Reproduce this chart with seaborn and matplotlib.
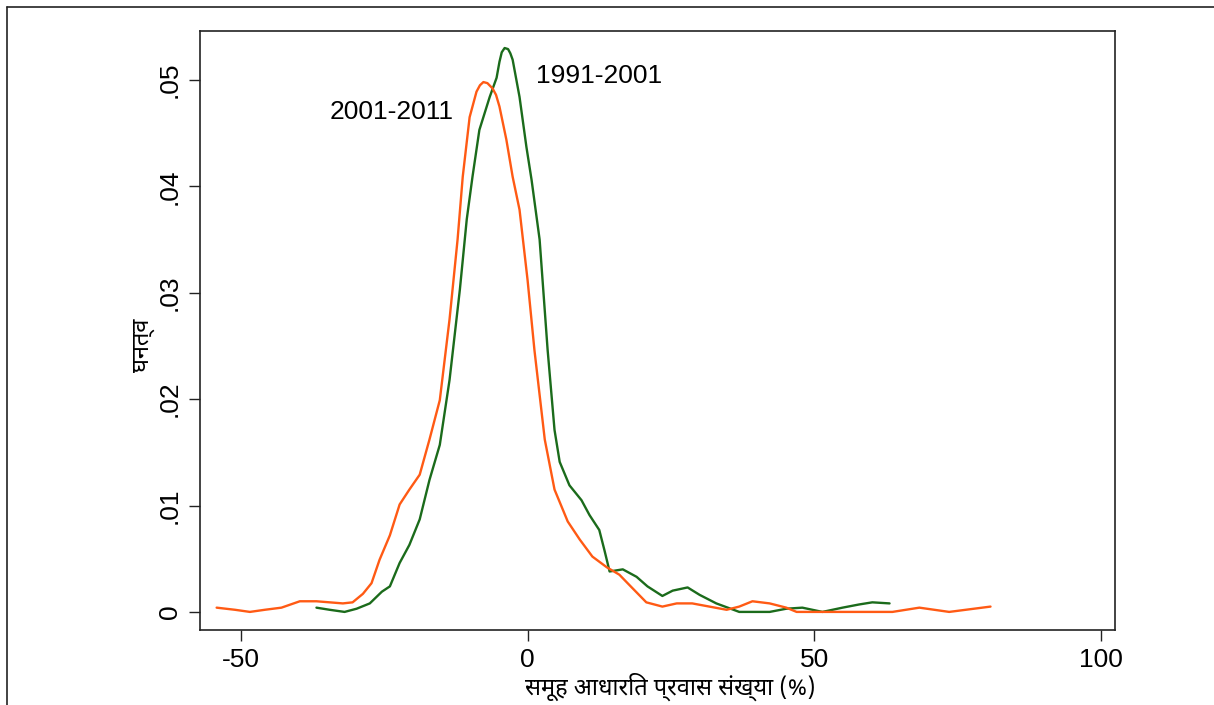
import matplotlib
matplotlib.use("Agg")
import matplotlib.pyplot as plt
import seaborn as sns
import pandas as pd
from matplotlib.lines import Line2D

# ---- data ----
x_2001_2011 = [-54.2, -51.0, -48.4, -45.8, -42.9, -39.7, -36.8, -34.5, -32.2, -30.5,
               -28.7, -27.2, -25.8, -24.0, -22.3, -20.6, -18.8, -17.1, -15.3, -13.6,
               -12.2, -11.3, -10.1, -8.9, -8.3, -7.7, -7.0, -6.1, -5.5, -4.9, -3.7, -2.6, -1.4,
               0.0, 1.2, 3.0, 4.7, 7.0, 9.1, 11.3, 13.8, 16.0, 17.8,
               20.7, 23.5, 26.0, 28.7, 31.7, 34.7, 36.9, 39.2, 42.2, 45.1,
               46.9, 52.6, 63.6, 68.3, 73.5, 80.7]
y_2001_2011 = [0.0004, 0.0002, 0.0000, 0.0002, 0.0004, 0.0010, 0.0010, 0.0009, 0.0008, 0.0009,
               0.0017, 0.0027, 0.0049, 0.0072, 0.0101, 0.0115, 0.0129, 0.0162, 0.0199, 0.0275,
               0.0350, 0.0409, 0.0465, 0.0489, 0.0495, 0.0498, 0.0497, 0.0492, 0.0486, 0.0475,
               0.0444, 0.0409, 0.0378,
               0.0312, 0.0246, 0.0162, 0.0115, 0.0085, 0.0068, 0.0052, 0.0042, 0.0035, 0.0025,
               0.0009, 0.0005, 0.0008, 0.0008, 0.0005, 0.0002, 0.0005, 0.0010, 0.0008, 0.0004,
               0.0000, 0.0000, 0.0000, 0.0004, 0.0000, 0.0005]

x_1991_2001 = [-36.8, -34.5, -31.9, -29.8, -27.5, -25.4, -24.0, -22.3, -20.6, -18.8,
               -17.1, -15.3, -13.6, -11.8, -10.6, -9.6, -8.4, -6.6, -5.4, -4.9,
               -4.5, -4.0, -3.4, -3.0, -2.6, -1.4, -0.2, 0.7, 2.1, 3.5, 4.7, 5.6, 7.3,
               9.4, 10.8, 12.5, 13.4, 14.3, 16.6, 19.0, 20.9, 23.5, 25.3,
               27.9, 30.0, 32.9, 36.9, 42.2, 45.1, 47.9, 51.4, 54.9, 57.8,
               60.1, 63.1]
y_1991_2001 = [0.0004, 0.0002, 0.0000, 0.0003, 0.0008, 0.0019, 0.0024, 0.0046, 0.0063, 0.0087,
               0.0124, 0.0157, 0.0218, 0.0303, 0.0369, 0.0409, 0.0453, 0.0484, 0.0502, 0.0517,
               0.0526, 0.0530, 0.0529, 0.0525, 0.0519, 0.0484, 0.0437, 0.0406, 0.0350, 0.0246,
               0.0171, 0.0141, 0.0119,
               0.0105, 0.0091, 0.0077, 0.0058, 0.0038, 0.0040, 0.0033, 0.0024, 0.0015, 0.0020,
               0.0023, 0.0016, 0.0008, 0.0000, 0.0000, 0.0003, 0.0004, 0.0000, 0.0004, 0.0007,
               0.0009, 0.0008]

series_names = ["1991-2001", "2001-2011"]
series_colors = {"1991-2001": "#1b6b1b", "2001-2011": "#ff5a14"}
x_ticks = [-50, 0, 50, 100]
y_ticks = [0, 0.01, 0.02, 0.03, 0.04, 0.05]
y_tick_labels = ["0", ".01", ".02", ".03", ".04", ".05"]
x_label = "समूह आधारित प्रवास संख्या (%)"
y_label = "घनत्व"

df = pd.concat([
    pd.DataFrame({"x": x_1991_2001, "y": y_1991_2001, "period": "1991-2001"}),
    pd.DataFrame({"x": x_2001_2011, "y": y_2001_2011, "period": "2001-2011"}),
], ignore_index=True)

sns.set_style("white")
plt.rcParams["font.family"] = ["Liberation Sans", "DejaVu Sans"]
plt.rcParams["text.color"] = "black"
plt.rcParams["axes.labelcolor"] = "black"
plt.rcParams["xtick.color"] = "black"
plt.rcParams["ytick.color"] = "black"
deva = ["Noto Sans Devanagari", "Lohit Devanagari", "Mangal", "Noto Sans", "DejaVu Sans"]

fig = plt.figure(figsize=(12.14, 7.05), dpi=100)
ax = fig.add_axes([200 / 1214, 1 - 630 / 705, (1115 - 200) / 1214, (630 - 31) / 705])

sns.lineplot(data=df, x="x", y="y", hue="period", hue_order=series_names,
             palette=series_colors, sort=False, estimator=None, linewidth=1.7,
             legend=False, ax=ax)

ax.set_xlim(-57.1, 102.4)
ax.set_ylim(-0.0017, 0.0546)
ax.set_xticks(x_ticks)
ax.set_xticklabels([str(t) for t in x_ticks])
ax.set_yticks(y_ticks)
ax.set_yticklabels(y_tick_labels, rotation=90, va="center")
ax.tick_params(axis="both", direction="out", length=8, width=1, color="#222222",
               labelsize=19, pad=5, bottom=True, left=True)
for sp in ax.spines.values():
    sp.set_color("#222222")
    sp.set_linewidth(1.2)

ax.set_xlabel(x_label, fontsize=17, family=deva, va="center")
ax.xaxis.set_label_coords(0.514, -0.095)
ax.set_ylabel(y_label, fontsize=17, family=deva, va="center")
ax.yaxis.set_label_coords(-0.062, 0.476)

ax.text(-23.7, 0.0470, "2001-2011", fontsize=19, ha="center", va="center")
ax.text(12.5, 0.0504, "1991-2001", fontsize=19, ha="center", va="center")

# outer frame (top and left edges visible)
fig.add_artist(Line2D([7 / 1214, 1], [1 - 7 / 705, 1 - 7 / 705], transform=fig.transFigure,
                      color="#222222", linewidth=1.2))
fig.add_artist(Line2D([7 / 1214, 7 / 1214], [0, 1 - 7 / 705], transform=fig.transFigure,
                      color="#222222", linewidth=1.2))

fig.savefig("out.png", dpi=100, facecolor="white")
